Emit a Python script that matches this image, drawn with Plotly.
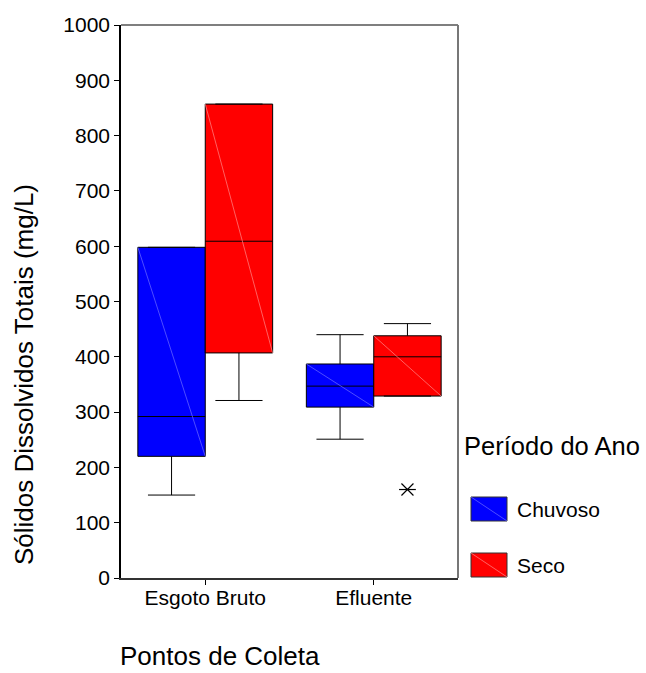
import plotly.graph_objects as go

# ---- data ----
categories = ["Esgoto Bruto", "Efluente"]
series_names = ["Chuvoso", "Seco"]
series_colors = ["#0000FF", "#FF0000"]
diag_colors = ["#6f6fff", "#ff8a8a"]

# per series: values for [Esgoto Bruto, Efluente]
q1 = {"Chuvoso": [220, 309], "Seco": [407, 329]}
median = {"Chuvoso": [292, 347], "Seco": [609, 400]}
q3 = {"Chuvoso": [598, 387], "Seco": [857, 438]}
lowerfence = {"Chuvoso": [150, 251], "Seco": [321, 329]}
upperfence = {"Chuvoso": [598, 440], "Seco": [857, 460]}
outlier_series = "Seco"
outlier_category = "Efluente"
outlier_values = [160]

y_ticks = [0, 100, 200, 300, 400, 500, 600, 700, 800, 900, 1000]

# ---- layout geometry ----
W, H = 646, 673
L, R, T, B = 121, 458, 25, 578
FONT = "Liberation Sans, Arial, Helvetica, sans-serif"

def px_x(px):
    return (px - L) / (R - L)

def px_y(py):
    return (B - py) / (B - T)

cat_pos = [i + 0.5 for i in range(len(categories))]
box_w = 0.4
offsets = [-0.2, 0.2]

fig = go.Figure()
for s, name in enumerate(series_names):
    xs = [c + offsets[s] for c in cat_pos]
    fig.add_trace(go.Box(
        x=xs, q1=q1[name], median=median[name], q3=q3[name],
        lowerfence=lowerfence[name], upperfence=upperfence[name],
        width=box_w, whiskerwidth=0.7, fillcolor=series_colors[s],
        line=dict(color="black", width=1), boxpoints=False,
        name=name, showlegend=False, orientation="v",
    ))
    # faint diagonal lines inside boxes (SPSS style)
    for i, c in enumerate(xs):
        fig.add_trace(go.Scatter(
            x=[c - box_w / 2, c + box_w / 2], y=[q3[name][i], q1[name][i]],
            mode="lines", line=dict(color=diag_colors[s], width=0.7),
            hoverinfo="skip", showlegend=False,
        ))

# outlier star (6 arms)
ox = cat_pos[categories.index(outlier_category)] + offsets[series_names.index(outlier_series)]
for sym in ["x-thin-open", "line-ew-open"]:
    fig.add_trace(go.Scatter(
        x=[ox] * len(outlier_values), y=outlier_values, mode="markers",
        marker=dict(symbol=sym, size=12, line=dict(color="black", width=1.2), color="black"),
        showlegend=False, hoverinfo="skip",
    ))

shapes = [
    dict(type="line", xref="paper", yref="paper", x0=0, x1=1, y0=1, y1=1,
         line=dict(color="black", width=1.2)),
    dict(type="line", xref="paper", yref="paper", x0=1, x1=1, y0=0, y1=1,
         line=dict(color="#777777", width=2)),
]
annotations = [
    dict(text="Sólidos Dissolvidos Totais (mg/L)", xref="paper", yref="paper",
         x=px_x(24), y=px_y(375), textangle=-90, showarrow=False,
         font=dict(size=26, color="black", family=FONT), xanchor="center", yanchor="middle"),
    dict(text="Pontos de Coleta", xref="paper", yref="paper",
         x=px_x(220), y=px_y(656), showarrow=False,
         font=dict(size=26, color="black", family=FONT), xanchor="center", yanchor="middle"),
    dict(text="Período do Ano", xref="paper", yref="paper",
         x=px_x(552), y=px_y(446), showarrow=False,
         font=dict(size=25.5, color="black", family=FONT), xanchor="center", yanchor="middle"),
]
legend_y = [509, 565]
for s, name in enumerate(series_names):
    yc = legend_y[s]
    x0, x1 = px_x(471), px_x(507)
    y0, y1 = px_y(yc + 12), px_y(yc - 12)
    shapes.append(dict(type="rect", xref="paper", yref="paper", x0=x0, x1=x1, y0=y0, y1=y1,
                       fillcolor=series_colors[s], line=dict(color="#333333", width=1)))
    shapes.append(dict(type="line", xref="paper", yref="paper", x0=x0, x1=x1, y0=y1, y1=y0,
                       line=dict(color=diag_colors[s], width=0.7)))
    annotations.append(dict(text=name, xref="paper", yref="paper", x=px_x(515), y=px_y(yc),
                            showarrow=False, xanchor="left", yanchor="middle",
                            font=dict(size=21, color="black", family=FONT)))

fig.update_layout(
    width=W, height=H,
    margin=dict(l=L, r=W - R, t=T, b=H - B, pad=0),
    paper_bgcolor="white", plot_bgcolor="white",
    font=dict(family=FONT, color="black"),
    showlegend=False,
    shapes=shapes, annotations=annotations,
    xaxis=dict(range=[0, len(categories)], tickvals=cat_pos, ticktext=categories,
               showgrid=False, zeroline=False, showline=True, linecolor="#333333", linewidth=2,
               ticks="outside", ticklen=5, tickcolor="black", tickwidth=1,
               ticklabelstandoff=-5,
               tickfont=dict(size=21, family=FONT, color="black")),
    yaxis=dict(range=[0, 1000], tickvals=y_ticks, showgrid=False, zeroline=False,
               showline=True, linecolor="black", linewidth=1.5,
               ticks="outside", ticklen=5, tickcolor="black", tickwidth=1,
               tickfont=dict(size=21, family=FONT, color="black")),
)

fig.write_html("out.html", config={"displayModeBar": False},
               post_script="document.body.style.margin='0px';")
